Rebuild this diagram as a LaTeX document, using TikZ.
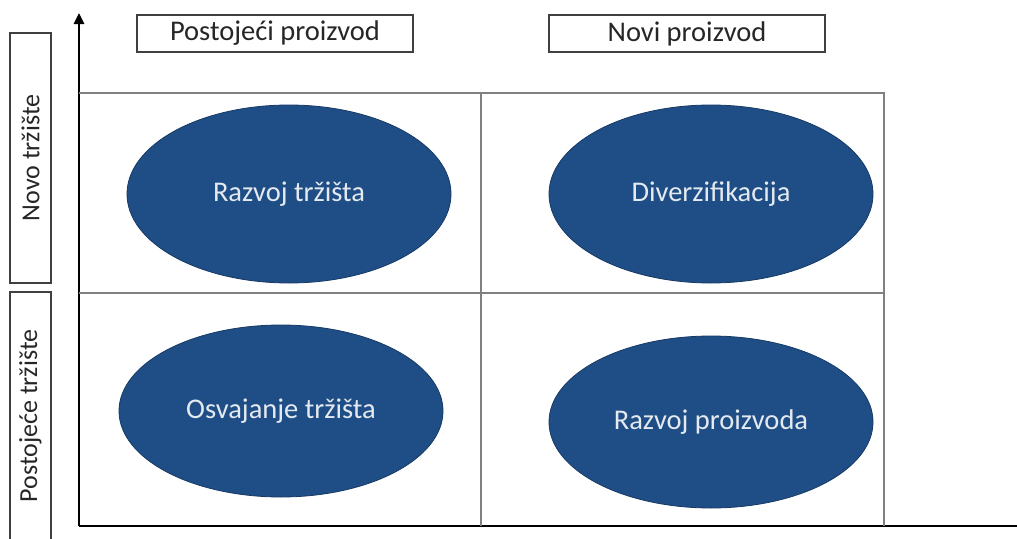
\documentclass[tikz,border=0pt]{standalone}
\usepackage{fontspec}
\setmainfont{Carlito}
\usetikzlibrary{shapes.geometric,arrows.meta}
\definecolor{matrixblue}{RGB}{31,78,134}
\tikzstyle{strategy node} = [ellipse,draw=matrixblue!75!black,fill=matrixblue,text=white!88!matrixblue,
                             inner sep=0,minimum width=324,minimum height=172,line width=0.8,
                             font=\fontsize{28.5}{34}\selectfont]
\tikzstyle{label box}     = [draw=black!75,line width=1.2,inner sep=0,text=black!85]
\tikzstyle{grid line}     = [draw=black!50,line width=1.4]
\tikzstyle{axis line}     = [draw=black,line width=2.6]

\begin{document}
\begin{tikzpicture}[x=1pt,y=-1pt]
\useasboundingbox (0,0) rectangle (1017,538);

    % axes
    \coordinate (origin) at (79,526);
    \coordinate (ytop)   at (79,13);
    \coordinate (xend)   at (1017,526);
    \draw[axis line, -{Triangle[length=11pt,width=10pt]}] (origin) -- (ytop);
    \draw[axis line] (origin) -- (xend);

    % cells of the matrix
    \coordinate (top left)  at (79,93);
    \coordinate (top mid)   at (481,93);
    \coordinate (top right) at (884,93);
    \coordinate (mid left)  at (79,293);
    \coordinate (mid right) at (884,293);
    \coordinate (bot mid)   at (481,526);
    \coordinate (bot right) at (884,526);
    \draw[grid line] (top left) -- (top right) -- (bot right);
    \draw[grid line] (mid left) -- (mid right);
    \draw[grid line] (top mid) -- (bot mid);

    % column headings
    \node(existing product)[label box, minimum width=276, minimum height=37,
        font=\fontsize{28.5}{34}\selectfont] at (275,33.5) {Postojeći proizvod};
    \node(new product)[label box, minimum width=276, minimum height=37,
        font=\fontsize{28.5}{34}\selectfont] at (687,33.5) {Novi proizvod};

    % row headings
    \node(new market)[label box, rotate=90, minimum width=250, minimum height=41,
        font=\fontsize{26}{30}\selectfont] at (30.5,158) {Novo tržište};
    \node(existing market)[label box, rotate=90, minimum width=248, minimum height=41,
        font=\fontsize{26}{30}\selectfont] at (30.5,416) {Postojeće tržište};

    % strategies
    \node(market development)[strategy node, minimum height=178] at (289,194) {Razvoj tržišta};
    \node(diversification)[strategy node, minimum height=178]    at (711,194) {Diverzifikacija};
    \node(market penetration)[strategy node]                      at (281,411) {Osvajanje tržišta};
    \node(product development)[strategy node]                     at (711,422) {Razvoj proizvoda};

\end{tikzpicture}
\end{document}
